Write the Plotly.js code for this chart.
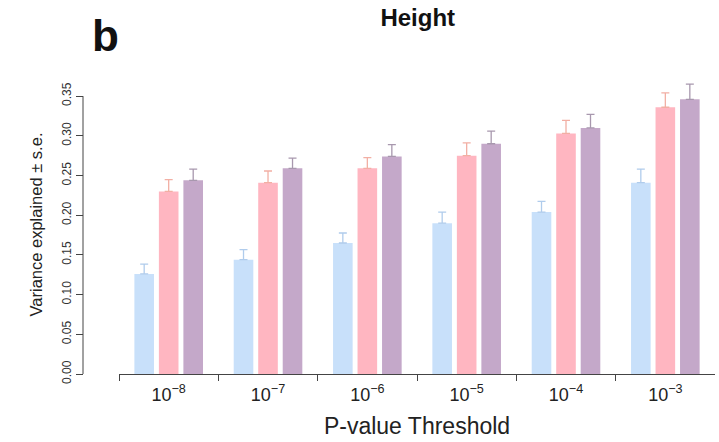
<!DOCTYPE html>
<html>
<head>
<meta charset="utf-8">
<script src="https://cdn.plot.ly/plotly-3.0.1.min.js"></script>
<style>html,body{margin:0;padding:0;background:#fff;}#chart{width:719px;height:442px;}</style>
</head>
<body>
<div id="chart"></div>
<script>
// Data
const thresholds = ["1e-8", "1e-7", "1e-6", "1e-5", "1e-4", "1e-3"];
const thresholdLabels = ["10<sup>−8</sup>", "10<sup>−7</sup>", "10<sup>−6</sup>", "10<sup>−5</sup>", "10<sup>−4</sup>", "10<sup>−3</sup>"];
const seriesA = [0.126, 0.144, 0.165, 0.190, 0.204, 0.241];
const seriesA_se = [0.0125, 0.0126, 0.0126, 0.014, 0.0135, 0.017];
const seriesB = [0.230, 0.241, 0.259, 0.275, 0.303, 0.336];
const seriesB_se = [0.0147, 0.0147, 0.0135, 0.016, 0.0164, 0.018];
const seriesC = [0.244, 0.259, 0.274, 0.290, 0.310, 0.346];
const seriesC_se = [0.014, 0.013, 0.015, 0.016, 0.017, 0.019];
const noLower = [0, 0, 0, 0, 0, 0];
const yTickVals = [0, 0.05, 0.10, 0.15, 0.20, 0.25, 0.30, 0.35];
const yTickText = ["0.00", "0.05", "0.10", "0.15", "0.20", "0.25", "0.30", "0.35"];

const FONT = "Liberation Sans, Arial, Helvetica, sans-serif";

function barTrace(name, y, se, fill, errColor) {
  return {
    type: "bar", name: name, x: thresholds, y: y,
    marker: {color: fill, line: {width: 0}},
    error_y: {type: "data", symmetric: false, array: se, arrayminus: noLower, visible: true,
              color: errColor, thickness: 1.3, width: 4},
    hoverinfo: "y"
  };
}

const data = [
  barTrace("A", seriesA, seriesA_se, "#C8E0FA", "#B0CCEC"),
  barTrace("B", seriesB, seriesB_se, "#FFB6C1", "#F2AFA4"),
  barTrace("C", seriesC, seriesC_se, "#C4A8C9", "#A898AE")
];

const layout = {
  width: 719, height: 442,
  margin: {l: 83, r: 4, t: 75, b: 68},
  paper_bgcolor: "#fff", plot_bgcolor: "#fff",
  showlegend: false,
  barmode: "group", bargap: 0.26, bargroupgap: 0.2,
  font: {family: FONT, color: "#222"},
  title: {
    text: "<b>Height</b>", font: {family: FONT, size: 24, color: "#111"},
    xref: "container", yref: "container", x: 0.581, xanchor: "center", y: 0.96, yanchor: "middle"
  },
  xaxis: {
    domain: [0.057, 1],
    type: "category",
    tickmode: "array", tickvals: thresholds, ticktext: thresholdLabels,
    tickson: "boundaries",
    ticks: "outside", ticklen: 6, tickwidth: 1, tickcolor: "#444",
    ticklabelstandoff: 4,
    showline: true, linecolor: "#444", linewidth: 1,
    showgrid: false, zeroline: false,
    tickfont: {family: FONT, size: 18, color: "#222"},
    title: {text: "P-value Threshold", font: {family: FONT, size: 23, color: "#222"}, standoff: 14}
  },
  yaxis: {
    range: [0, 0.3766],
    anchor: "free", position: 0,
    tickmode: "array", tickvals: yTickVals, ticktext: yTickText,
    tickangle: -90,
    ticks: "outside", ticklen: 7, tickwidth: 1, tickcolor: "#444",
    showline: false, showgrid: false, zeroline: false,
    tickfont: {family: FONT, size: 12, color: "#333"},
    title: {text: "Variance explained ± s.e.", font: {family: FONT, size: 16.5, color: "#222"}, standoff: 12}
  },
  shapes: [
    {type: "line", xref: "paper", yref: "y", x0: 0, x1: 0, y0: yTickVals[0], y1: yTickVals[yTickVals.length - 1],
     line: {color: "#444", width: 1}}
  ],
  annotations: [
    {text: "<b>b</b>", xref: "paper", yref: "paper", x: 0.035, y: 1.133, xanchor: "center", yanchor: "middle",
     showarrow: false, font: {family: FONT, size: 44, color: "#111"}}
  ]
};

Plotly.newPlot("chart", data, layout, {displayModeBar: false, staticPlot: true});
</script>
</body>
</html>
